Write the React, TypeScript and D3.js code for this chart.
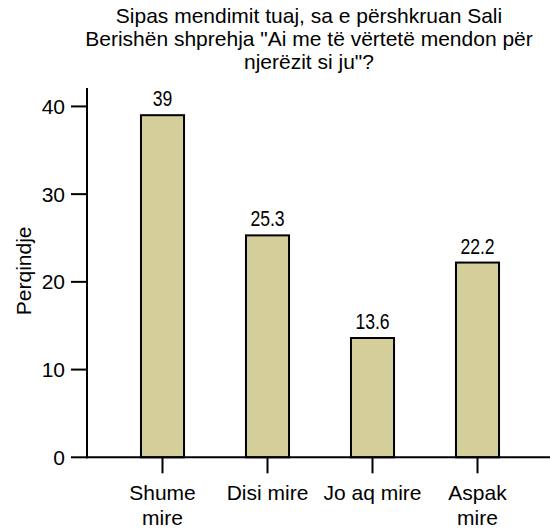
import React from "react";
import * as d3 from "d3";

const titleLines = [
  "Sipas mendimit tuaj, sa e përshkruan Sali",
  "Berishën shprehja \"Ai me të vërtetë mendon për",
  "njerëzit si ju\"?",
];
const categories = ["Shume mire", "Disi mire", "Jo aq mire", "Aspak mire"];
const categoryLines = [["Shume", "mire"], ["Disi mire"], ["Jo aq mire"], ["Aspak", "mire"]];
const values = [39, 25.3, 13.6, 22.2];
const valueLabels = ["39", "25.3", "13.6", "22.2"];
const yTicks = [0, 10, 20, 30, 40];
const yLabel = "Perqindje";

const W = 550;
const H = 532;
const FONT = "'Liberation Sans', Arial, sans-serif";

export default function App() {
  const axisX = 87;
  const y = d3.scaleLinear().domain([0, 42.1]).range([457.3, 88]);
  const x = d3
    .scaleBand<string>()
    .domain(categories)
    .range([110, 530])
    .paddingInner(0.59)
    .paddingOuter(0.295);
  const y0 = y(0);

  return (
    <svg
      width={W}
      height={H}
      style={{ position: "absolute", left: 0, top: 0, background: "#fff" }}
    >
      <g fontFamily={FONT} fontSize={21} fill="#000" textAnchor="middle">
        {titleLines.map((t, i) => (
          <text key={i} x={309} y={23 + i * 23}>
            {t}
          </text>
        ))}
      </g>

      {categories.map((c, i) => {
        const bx = x(c)!;
        const bw = x.bandwidth();
        return (
          <g key={c}>
            <rect
              x={bx}
              y={y(values[i])}
              width={bw}
              height={y0 - y(values[i])}
              fill="#d4cf9a"
              stroke="#000"
              strokeWidth={2}
            />
            <text
              transform={`translate(${bx + bw / 2}, ${y(values[i]) - 9}) scale(0.8, 1)`}
              textAnchor="middle"
              fontFamily={FONT}
              fontSize={22}
            >
              {valueLabels[i]}
            </text>
            <line
              x1={bx + bw / 2}
              x2={bx + bw / 2}
              y1={y0}
              y2={y0 + 16}
              stroke="#000"
              strokeWidth={2}
            />
            {categoryLines[i].map((ln, j) => (
              <text
                key={j}
                x={bx + bw / 2}
                y={500 + j * 25}
                textAnchor="middle"
                fontFamily={FONT}
                fontSize={21}
              >
                {ln}
              </text>
            ))}
          </g>
        );
      })}

      <line x1={axisX} x2={axisX} y1={y.range()[1]} y2={y0 + 1} stroke="#000" strokeWidth={2} />
      <line x1={axisX - 1} x2={W} y1={y0} y2={y0} stroke="#000" strokeWidth={2} />

      {yTicks.map((t) => (
        <g key={t}>
          <line x1={axisX - 16} x2={axisX} y1={y(t)} y2={y(t)} stroke="#000" strokeWidth={2} />
          <text
            x={axisX - 22}
            y={y(t)}
            dy="0.36em"
            textAnchor="end"
            fontFamily={FONT}
            fontSize={21}
          >
            {t}
          </text>
        </g>
      ))}

      <text
        transform={`translate(31, ${(y(0) + y(40)) / 2 - 11}) rotate(-90)`}
        textAnchor="middle"
        fontFamily={FONT}
        fontSize={21}
      >
        {yLabel}
      </text>
    </svg>
  );
}
